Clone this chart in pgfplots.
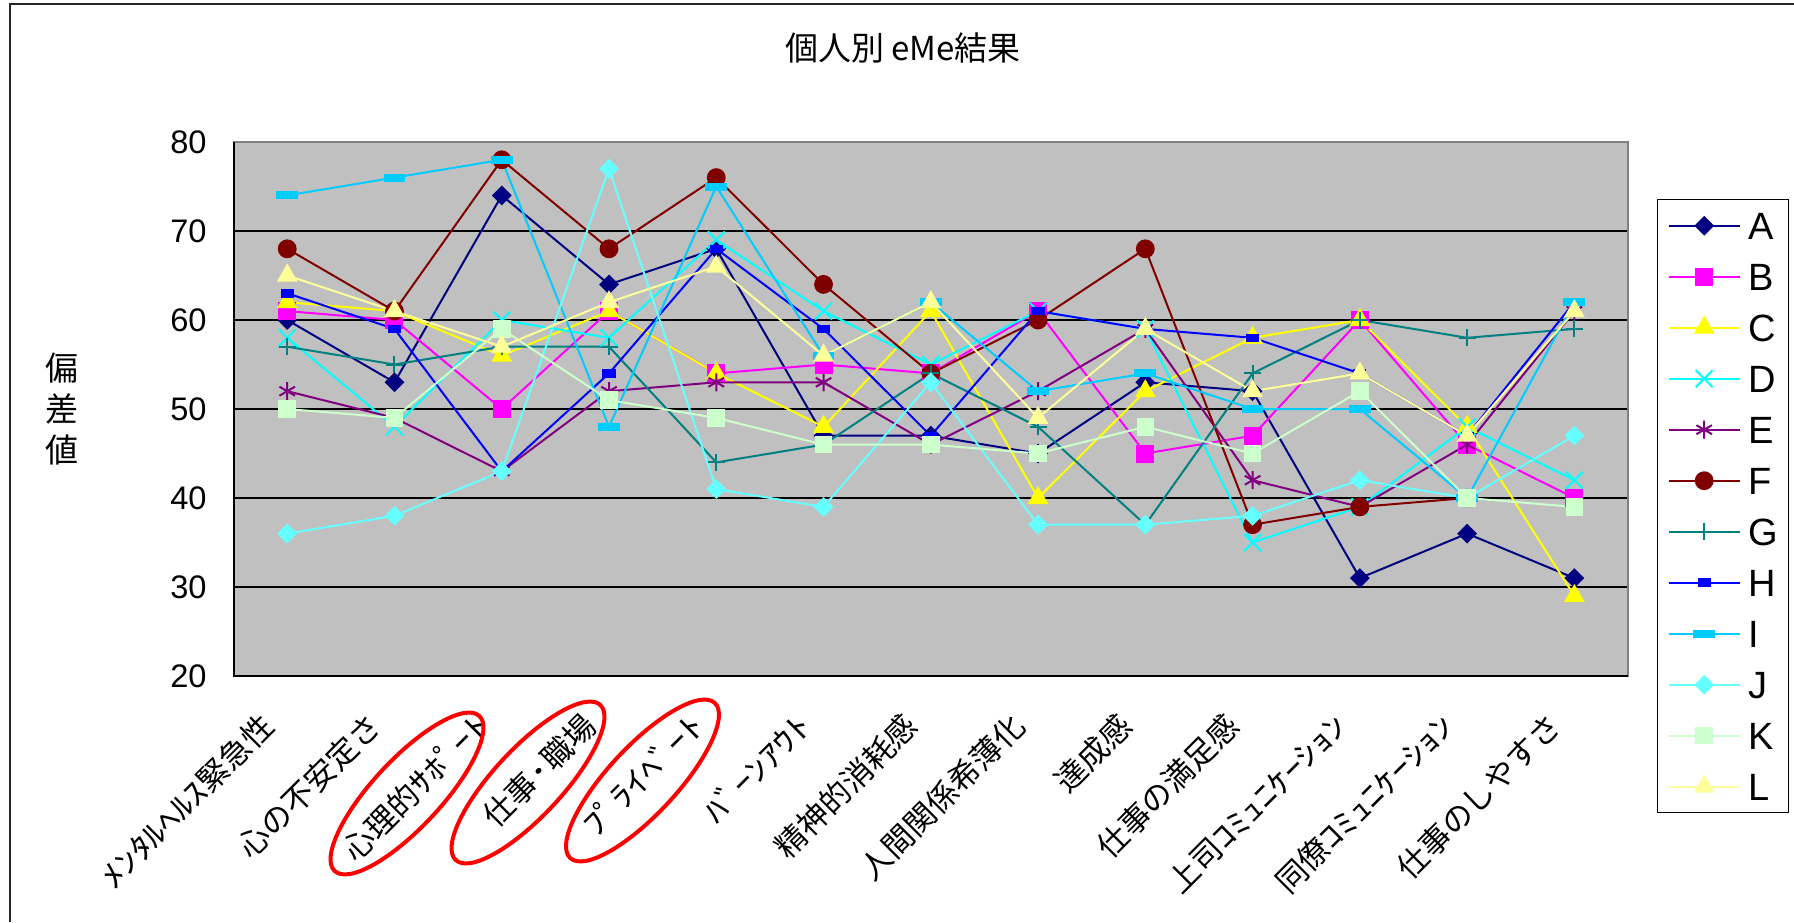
\documentclass[border=0pt]{standalone}
\usepackage{pgfplots}
\usepackage{pgfplotstable}
\pgfplotsset{compat=1.18}
\usepackage{fontspec}
\setmainfont{Liberation Sans}
\newfontfamily\cjk{Noto Sans CJK JP}
% half-width katakana set a little wider
\newfontfamily\hw{Noto Sans CJK JP}[FakeStretch=1.25]

\definecolor{sA}{HTML}{000080}
\definecolor{sB}{HTML}{FF00FF}
\definecolor{sC}{HTML}{FFFF00}
\definecolor{sD}{HTML}{00FFFF}
\definecolor{sE}{HTML}{800080}
\definecolor{sF}{HTML}{800000}
\definecolor{sG}{HTML}{008080}
\definecolor{sH}{HTML}{0000FF}
\definecolor{sI}{HTML}{00CCFF}
\definecolor{sJ}{HTML}{66FFFF}
\definecolor{sK}{HTML}{CCFFCC}
\definecolor{sL}{HTML}{FFFF99}
\definecolor{plotbg}{HTML}{C0C0C0}

% deviation scores: one row per item, one column per person
\pgfplotstableread{
x  A  B  C  D  E  F   G  H  I  J  K  L
0  60 61 62 58 52 68  57 63 74 36 50 65
1  53 60 61 48 49 61  55 59 76 38 49 61
2  74 50 56 60 43 78  57 43 78 43 59 57
3  64 61 61 58 52 68  57 54 48 77 51 62
4  68 54 54 69 53 76  44 68 75 41 49 66
5  47 55 48 61 53 64  46 59 56 39 46 56
6  47 54 61 55 46 54  54 47 62 53 46 62
7  45 61 40 61 52 60  48 61 52 37 45 49
8  53 45 52 59 59 68  37 59 54 37 48 59
9  52 47 58 35 42 37  54 58 50 38 45 52
10 31 60 60 39 39 39  60 54 50 42 52 54
11 36 46 48 48 46 40  58 47 40 40 40 47
12 31 40 29 42 61 nan 59 62 62 47 39 61
}\scores

\pgfplotsset{
  ser/.style={line width=1pt, mark options={solid}},
  serA/.style={ser, color=sA, mark=square*, mark size=3pt, mark options={rotate=45, draw=none, fill=sA}},
  serB/.style={ser, color=sB, mark=square*, mark size=4pt, mark options={draw=none, fill=sB}},
  serC/.style={ser, color=sC, mark=triangle*, mark size=5pt, mark options={draw=none, fill=sC}},
  serD/.style={ser, color=sD, mark=x, mark size=6pt},
  serE/.style={ser, color=sE, mark=asterisk, mark size=4.5pt},
  serF/.style={ser, color=sF, mark=*, mark size=4.2pt, mark options={draw=none, fill=sF}},
  serG/.style={ser, color=sG, mark=+, mark size=4.25pt},
  serH/.style={ser, color=sH, mark=square*, mark size=1.6pt, mark options={xscale=1.75, draw=none, fill=sH}},
  serI/.style={ser, color=sI, mark=square*, mark size=1.5pt, mark options={xscale=3.3, draw=none, fill=sI}},
  serJ/.style={ser, color=sJ, mark=square*, mark size=3pt, mark options={rotate=45, draw=none, fill=sJ}},
  serK/.style={ser, color=sK, mark=square*, mark size=3.9pt, mark options={draw=none, fill=sK}},
  serL/.style={ser, color=sL, mark=triangle*, mark size=5pt, mark options={draw=none, fill=sL}},
}

\begin{document}
\begin{tikzpicture}
\path[use as bounding box] (0,0) rectangle (897pt,461pt);
% chart frame
\draw[line width=1.1pt, black!85] (5pt,0pt) -- (5pt,459pt) -- (897pt,459pt);
% title and vertical axis label
\node[font=\cjk\fontsize{16.5}{16.5}\selectfont] at (451.5pt,437pt) {個人別 eMe結果};
\node[font=\cjk\fontsize{16.5}{20.5}\selectfont, align=center] at (31pt,256.5pt) {偏\\差\\値};

\begin{axis}[
  at={(116.8pt,123pt)}, anchor=south west,
  scale only axis, width=697.2pt, height=267pt,
  xmin=-0.5, xmax=12.5, ymin=20, ymax=80,
  ytick={20,30,...,80},
  xtick={0,...,12},
  xticklabels={{\hw ﾒﾝﾀﾙﾍﾙｽ}緊急性, 心の不安定さ, 心理的{\hw ｻﾎﾟｰﾄ}, 仕事{\hw ･}職場, {\hw ﾌﾟﾗｲﾍﾞｰﾄ}, {\hw ﾊﾞｰﾝｱｳﾄ}, 精神的消耗感, 人間関係希薄化, 達成感, 仕事の満足感, 上司{\hw ｺﾐｭﾆｹｰｼｮﾝ}, 同僚{\hw ｺﾐｭﾆｹｰｼｮﾝ}, 仕事のしやすさ},
  extra x ticks={0.5,1.5,...,11.5},
  extra x tick labels={},
  extra tick style={major tick length=5.3pt, tick style={black, line width=0.6pt}},
  x tick style={draw=none},
  y tick style={black, line width=0.6pt},
  major tick length=4.8pt,
  tick align=inside,
  xticklabel style={xshift=-9.5pt, yshift=-22pt, rotate=45, anchor=east, inner sep=0pt,
    font=\cjk\fontsize{15.5}{15.5}\selectfont},
  yticklabel style={xshift=-13.3pt, inner sep=0pt, font=\fontsize{16.3}{16.3}\selectfont},
  /pgf/number format/assume math mode=true,
  ymajorgrids,
  major grid style={black, line width=0.6pt},
  axis background/.style={fill=plotbg},
  axis line style={draw=black!50, line width=1pt},
  clip=false,
  legend style={at={(1.0208,0.8933)}, anchor=north west, draw=black, line width=0.7pt,
    fill=white, inner xsep=5pt, inner ysep=6.2pt, row sep=11.9pt,
    nodes={inner sep=0pt, text height=13.6pt, text depth=0pt, font=\fontsize{19}{19}\selectfont},
    cells={anchor=west}},
  legend image code/.code={
    \path[draw=none, fill=none] (0pt,-5pt) rectangle (40pt,5pt);
    \draw[mark repeat=2, mark phase=2, #1] plot coordinates {(0pt,0pt) (17.75pt,0pt) (35.5pt,0pt)};
  },
]
\addplot[serA] table[x=x, y=A] {\scores};
\addplot[serB] table[x=x, y=B] {\scores};
\addplot[serC] table[x=x, y=C] {\scores};
\addplot[serD] table[x=x, y=D] {\scores};
\addplot[serE] table[x=x, y=E] {\scores};
\addplot[serF] table[x=x, y=F] {\scores};
\addplot[serG] table[x=x, y=G] {\scores};
\addplot[serH] table[x=x, y=H] {\scores};
\addplot[serI] table[x=x, y=I] {\scores};
\addplot[serJ] table[x=x, y=J] {\scores};
\addplot[serK] table[x=x, y=K] {\scores};
\addplot[serL] table[x=x, y=L] {\scores};
\legend{A,B,C,D,E,F,G,H,I,J,K,L}
% value and category axis lines
\draw[black, line width=1pt] (rel axis cs:0,1) -- (rel axis cs:0,0) -- (rel axis cs:1,0);
\end{axis}

% highlighted items
\draw[red, line width=2pt, rotate around={47:(203.5pt,64.25pt)}] (203.5pt,64.25pt) ellipse (53pt and 17pt);
\draw[red, line width=2pt, rotate around={47:(264pt,69.75pt)}] (264pt,69.75pt) ellipse (53pt and 17pt);
\draw[red, line width=2pt, rotate around={47:(321.25pt,70.75pt)}] (321.25pt,70.75pt) ellipse (53pt and 17pt);
\end{tikzpicture}
\end{document}
